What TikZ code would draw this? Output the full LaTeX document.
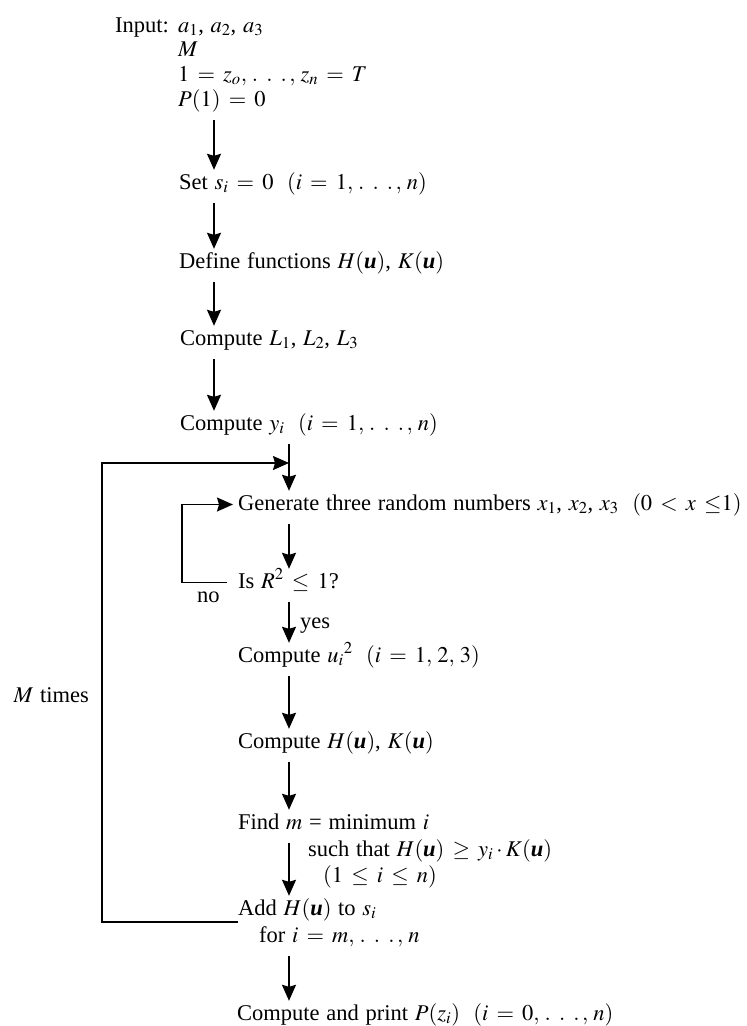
\documentclass[tikz,border=0pt]{standalone}
\usepackage{mathptmx}
\usepackage{fontspec}
\setmainfont{Liberation Serif}
\usetikzlibrary{arrows.meta,calc}
\newcommand{\bu}{\mbox{\bfseries\itshape u}}
\newcommand{\dts}{\mathinner{.\;.\;.}}
\newcommand{\setfnt}{\fontsize{22.5}{25}\selectfont\spaceskip=0.3em plus 0.1em\thickmuskip=6.5mu plus 2mu}
\begin{document}
\begin{tikzpicture}[x=1pt,y=-1pt,
  txt/.style={anchor=base west,inner sep=0pt,text height=16pt,text depth=5pt,font=\setfnt},
  arr/.style={line width=1.5pt,-{Stealth[length=16pt,width=14pt,inset=2pt]}},
  gap/.style={shorten <=9pt,shorten >=3pt}]
\useasboundingbox (0,0) rectangle (747,1026);
\coordinate (c1) at (214,0);
\coordinate (c2) at (289,0);
\coordinate (mleft) at (102,0);
\coordinate (j) at (289,463);

\node[txt] (inp) at (115,32) {Input:};
\node[txt] (ain) at (178,32) {$a_1$, $a_2$, $a_3$};
\node[txt] (inM) at (178,56) {$M$};
\node[txt] (inz) at (178,81) {$1 = z_o,\, \dts,\, z_n = T$};
\node[txt] (inP) at (178,106) {$P(1) = 0$};
\node[txt] (set) at (179,189) {Set $s_i = 0$\ \ $(i = 1,\, \dts,\, n)$};
\node[txt] (def) at (179,268) {Define functions $H(\bu)$, $K(\bu)$};
\node[txt] (cl) at (180,345) {Compute $L_1$, $L_2$, $L_3$};
\node[txt] (cy) at (180,430) {Compute $y_i$\ \ $(i = 1,\, \dts,\, n)$};
\node[txt] (gen) at (238,510) {Generate three random numbers $x_1$, $x_2$, $x_3$\ \ $(0 < x\; {\leq}1)$};
\node[txt] (isr) at (238,588) {Is $R^2 \leq 1$?};
\node[txt] (no) at (197,602) {no};
\node[txt] (yes) at (300,628) {yes};
\node[txt] (cu) at (238,662) {Compute $u_i{}^2$\ \ $(i = 1,\, 2,\, 3)$};
\node[txt] (ch) at (238,748) {Compute $H(\bu)$, $K(\bu)$};
\node[txt] (find) at (238,829) {Find $m$ = minimum $i$};
\node[txt] (such) at (308,856) {such that $H(\bu) \geq y_i\cdot K(\bu)$};
\node[txt] (rng) at (323,882) {$(1 \leq i \leq n)$};
\node[txt] (add) at (238,915) {Add $H(\bu)$ to $s_i$};
\node[txt] (for) at (259,942) {for $i = m,\, \dts,\, n$};
\node[txt] (prt) at (237,1020) {Compute and print $P(z_i)$\ \ $(i = 0,\, \dts,\, n)$};
\node[txt,anchor=base east] (mt) at (89,702) {$M$ times};

\draw[arr,gap] (inP.south -| c1) -- (set.north -| c1);
\draw[arr,gap] (set.south -| c1) -- (def.north -| c1);
\draw[arr,gap] (def.south -| c1) -- (cl.north -| c1);
\draw[arr,gap] (cl.south -| c1) -- (cy.north -| c1);
\draw[arr,gap] (cy.south -| c2) -- (gen.north -| c2);
\draw[arr,gap] (gen.south -| c2) -- (isr.north -| c2);
\draw[arr,gap] (isr.south -| c2) -- (cu.north -| c2);
\draw[arr,gap] (cu.south -| c2) -- (ch.north -| c2);
\draw[arr,gap] (ch.south -| c2) -- (find.north -| c2);
\draw[arr,gap] (find.south -| c2) -- (add.north -| c2);
\draw[arr,gap] (for.south -| c2) -- (prt.north -| c2);

\draw[arr] ([xshift=-11pt]isr.west) -- ++(-45,0) |- ([xshift=-5pt]gen.west);
\draw[arr] ($(add.base west)+(0,7)$) -- ($(add.base west -| mleft)+(0,7)$) |- (j);
\end{tikzpicture}
\end{document}
